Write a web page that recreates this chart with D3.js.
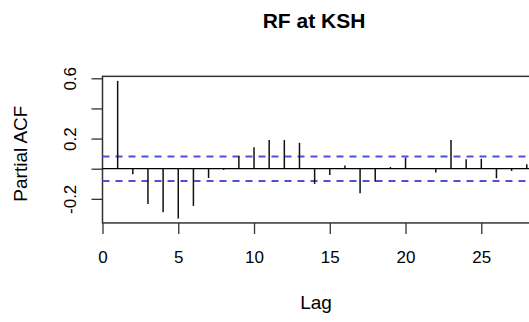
<!DOCTYPE html>
<html>
<head>
<meta charset="utf-8">
<script src="https://d3js.org/d3.v7.min.js"></script>
<style>
  body { margin: 0; background: #fff; }
  text { font-family: "Liberation Sans", Arial, sans-serif; fill: #000; }
</style>
</head>
<body>
<div id="chart"></div>
<script>
// partial autocorrelation by lag
const lags = [1, 2, 3, 4, 5, 6, 7, 8, 9, 10, 11, 12, 13, 14, 15, 16, 17, 18, 19, 20, 21, 22, 23, 24, 25, 26, 27, 28];
const pacf = [0.583, -0.037, -0.234, -0.289, -0.331, -0.247, -0.062, -0.008, 0.084, 0.142, 0.19, 0.19, 0.172,
              -0.101, -0.042, 0.022, -0.163, -0.086, 0.011, 0.073, 0.005, -0.026, 0.19, 0.062, 0.066, -0.064, -0.015, 0.03];
const ciLimit = 0.081;
const xTicks = [0, 5, 10, 15, 20, 25];
const yTicks = [-0.2, 0, 0.2, 0.4, 0.6];
const yTickLabels = ["-0.2", "", "0.2", "", "0.6"];

const width = 529, height = 322;

const svg = d3.select("#chart").append("svg")
    .attr("width", width)
    .attr("height", height);

// scales
const x = d3.scaleLinear().domain([0, 25]).range([102.5, 481.3]);
const y = d3.scaleLinear().domain([0, 0.6]).range([168.7, 78.3]);

const boxLeft = x(0), boxRight = x(29.5), boxTop = y(0.613), boxBottom = y(-0.36);

// box
svg.append("rect")
    .attr("x", boxLeft)
    .attr("y", boxTop)
    .attr("width", boxRight - boxLeft)
    .attr("height", boxBottom - boxTop)
    .attr("fill", "none")
    .attr("stroke", "#333")
    .attr("stroke-width", 1.5);

// zero line
svg.append("line")
    .attr("x1", boxLeft).attr("x2", boxRight)
    .attr("y1", y(0)).attr("y2", y(0))
    .attr("stroke", "#000")
    .attr("stroke-width", 1.3);

// confidence bounds
[ciLimit, -ciLimit].forEach(v => {
    svg.append("line")
        .attr("x1", boxLeft).attr("x2", boxRight)
        .attr("y1", y(v)).attr("y2", y(v))
        .attr("stroke", "#4f4fdc")
        .attr("stroke-width", 2)
        .attr("stroke-dasharray", "7,6");
});

// spikes
svg.selectAll(".spike")
    .data(lags.map((l, i) => [l, pacf[i]]))
    .enter()
    .append("line")
    .attr("class", "spike")
    .attr("x1", d => x(d[0])).attr("x2", d => x(d[0]))
    .attr("y1", y(0)).attr("y2", d => y(d[1]))
    .attr("stroke", "#111")
    .attr("stroke-width", 1.5);

// x axis
const xAxis = svg.append("g")
    .attr("transform", `translate(0,${boxBottom})`)
    .call(d3.axisBottom(x).tickValues(xTicks).tickSize(11).tickPadding(17).tickFormat(d3.format("d")));
xAxis.select(".domain").remove();
xAxis.selectAll("line").attr("stroke", "#333").attr("stroke-width", 1.3);
xAxis.selectAll("text").style("font-size", "17px").attr("font-family", null);

// y axis
const yAxis = svg.append("g")
    .attr("transform", `translate(${boxLeft},0)`)
    .call(d3.axisLeft(y).tickValues(yTicks).tickSize(11).tickFormat((d, i) => yTickLabels[i]));
yAxis.select(".domain").remove();
yAxis.selectAll("line").attr("stroke", "#333").attr("stroke-width", 1.3);
yAxis.selectAll("text")
    .attr("x", null).attr("dy", null)
    .attr("text-anchor", "middle")
    .attr("transform", "translate(-27,0) rotate(-90)")
    .style("font-size", "17px")
    .attr("font-family", null);

// title and axis labels
svg.append("text")
    .attr("x", 314)
    .attr("y", 28)
    .attr("text-anchor", "middle")
    .style("font-size", "21px")
    .style("font-weight", "bold")
    .text("RF at KSH");

svg.append("text")
    .attr("x", 316)
    .attr("y", 309)
    .attr("text-anchor", "middle")
    .style("font-size", "19px")
    .text("Lag");

svg.append("text")
    .attr("transform", `translate(27,${y(0.1)}) rotate(-90)`)
    .attr("text-anchor", "middle")
    .style("font-size", "19px")
    .text("Partial ACF");
</script>
</body>
</html>
